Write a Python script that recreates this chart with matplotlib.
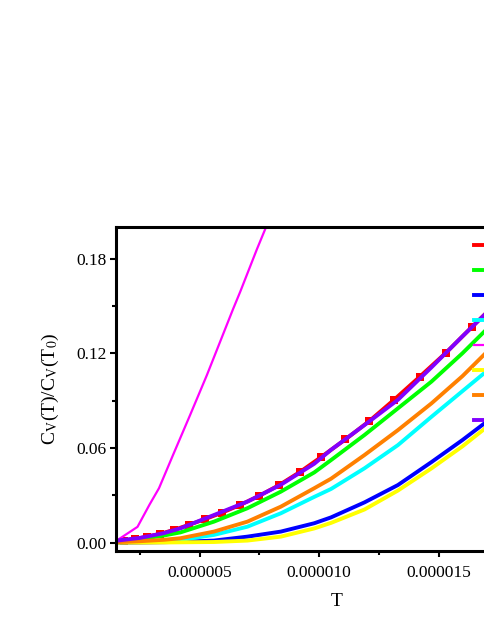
import matplotlib
matplotlib.use('Agg')
import matplotlib.pyplot as plt
from matplotlib.ticker import FixedLocator, FuncFormatter

plt.rcParams['font.family'] = ['Liberation Serif', 'DejaVu Serif']
plt.rcParams['mathtext.fontset'] = 'stix'

# temperature grid (units of 1e-6)
T = [1.5, 2.5, 3.5, 4.2, 5.6, 7.0, 8.4, 9.8, 10.5, 11.9, 13.3, 14.7, 16.0, 17.0, 18.0, 20.0]

green = [0.0008, 0.0022, 0.0045, 0.0065, 0.0133, 0.0218, 0.0323, 0.0445, 0.0523, 0.0682,
         0.0851, 0.1020, 0.1200, 0.1350, 0.150, 0.181]
blue = [0.0000, 0.0001, 0.0003, 0.0005, 0.0013, 0.0038, 0.0070, 0.0123, 0.0160, 0.0255,
        0.0365, 0.0510, 0.0650, 0.0765, 0.089, 0.115]
cyan = [0.0001, 0.0005, 0.0011, 0.0017, 0.0049, 0.0101, 0.0186, 0.0290, 0.0340, 0.0471,
        0.0618, 0.0797, 0.0960, 0.1085, 0.122, 0.150]
yellow = [0.0000, 0.0000, 0.0001, 0.0002, 0.0004, 0.0013, 0.0038, 0.0090, 0.0125, 0.0210,
          0.0330, 0.0470, 0.0610, 0.0730, 0.086, 0.111]
orange = [0.0003, 0.0009, 0.0018, 0.0028, 0.0070, 0.0133, 0.0228, 0.0345, 0.0405, 0.0555,
          0.0713, 0.0882, 0.1055, 0.1205, 0.135, 0.165]
purple = [0.0012, 0.0030, 0.0060, 0.0091, 0.0175, 0.0260, 0.0367, 0.0500, 0.0588, 0.0745,
          0.0905, 0.1110, 0.1307, 0.1455, 0.162, 0.195]

# red squares
T_red = [1.82, 2.31, 2.80, 3.33, 3.91, 4.54, 5.21, 5.94, 6.70, 7.50, 8.33, 9.21, 10.10,
         11.10, 12.10, 13.12, 14.21, 15.31, 16.40, 17.50, 18.60, 19.70]
red = [0.0013, 0.0023, 0.0038, 0.0055, 0.0080, 0.0112, 0.0148, 0.0190, 0.0239, 0.0297,
       0.0365, 0.0449, 0.0544, 0.0654, 0.0770, 0.0903, 0.1051, 0.1203, 0.1367, 0.153,
       0.171, 0.190]

# magenta (steep curve)
T_mag = [1.5, 1.9, 2.4, 2.9, 3.3, 3.9, 4.6, 5.3, 6.4, 6.7, 7.4, 8.0]
magenta = [0.0010, 0.0050, 0.0100, 0.0240, 0.0345, 0.0560, 0.0808, 0.1060, 0.1480,
           0.1590, 0.1860, 0.2080]

# legend labels sit past the right edge of the picture
labels = ['1', '2', '3', '4', '5', '6', '7', '8']

s = 1e-6
fig = plt.figure(figsize=(4.85, 6.27), dpi=100)
ax = fig.add_axes([116 / 485, 76 / 627, 442 / 485, 324 / 627])

ax.plot([t * s for t in T_red], red, color='#ff0000', lw=2.8, marker='s', ms=6,
        markeredgewidth=0, label=labels[0])
ax.plot([t * s for t in T], green, color='#00ff00', lw=2.8, label=labels[1])
ax.plot([t * s for t in T], blue, color='#0000ff', lw=2.8, label=labels[2])
ax.plot([t * s for t in T], cyan, color='#00ffff', lw=2.8, label=labels[3])
ax.plot([t * s for t in T_mag], magenta, color='#ff00ff', lw=1.6, label=labels[4])
ax.plot([t * s for t in T], yellow, color='#ffff00', lw=2.8, label=labels[5])
ax.plot([t * s for t in T], orange, color='#ff8000', lw=2.8, label=labels[6])
ax.plot([t * s for t in T], purple, color='#8000ff', lw=2.8, label=labels[7])

ax.set_xlim(1.5e-6, 2.0e-5)
ax.set_ylim(-0.0053, 0.2)

ax.xaxis.set_major_locator(FixedLocator([5e-6, 1e-5, 1.5e-5, 2e-5]))
ax.xaxis.set_minor_locator(FixedLocator([2.5e-6, 7.5e-6, 1.25e-5, 1.75e-5]))
ax.xaxis.set_major_formatter(FuncFormatter(lambda v, p: '%.6f' % v))
ax.yaxis.set_major_locator(FixedLocator([0.0, 0.06, 0.12, 0.18]))
ax.yaxis.set_minor_locator(FixedLocator([0.03, 0.09, 0.15]))
ax.yaxis.set_major_formatter(FuncFormatter(lambda v, p: '%.2f' % v))

for sp in ax.spines.values():
    sp.set_linewidth(2.2)
ax.tick_params(which='major', direction='out', length=4, width=1.5, labelsize=12.5)
ax.tick_params(axis='x', which='major', pad=6)
ax.tick_params(axis='y', which='major', pad=3)
ax.tick_params(which='minor', direction='out', length=3, width=1.5)

ax.set_xlabel('T', fontsize=14, labelpad=9)
ax.set_ylabel(r'C$_\mathrm{V}$(T)/C$_\mathrm{V}$(T$_0$)', fontsize=14, labelpad=11)

ax.legend(loc='upper left', bbox_to_anchor=(0.79, 0.99), frameon=False, fontsize=12,
          handlelength=2.5, labelspacing=0.54, borderpad=0)

fig.savefig('out.png', dpi=100)
